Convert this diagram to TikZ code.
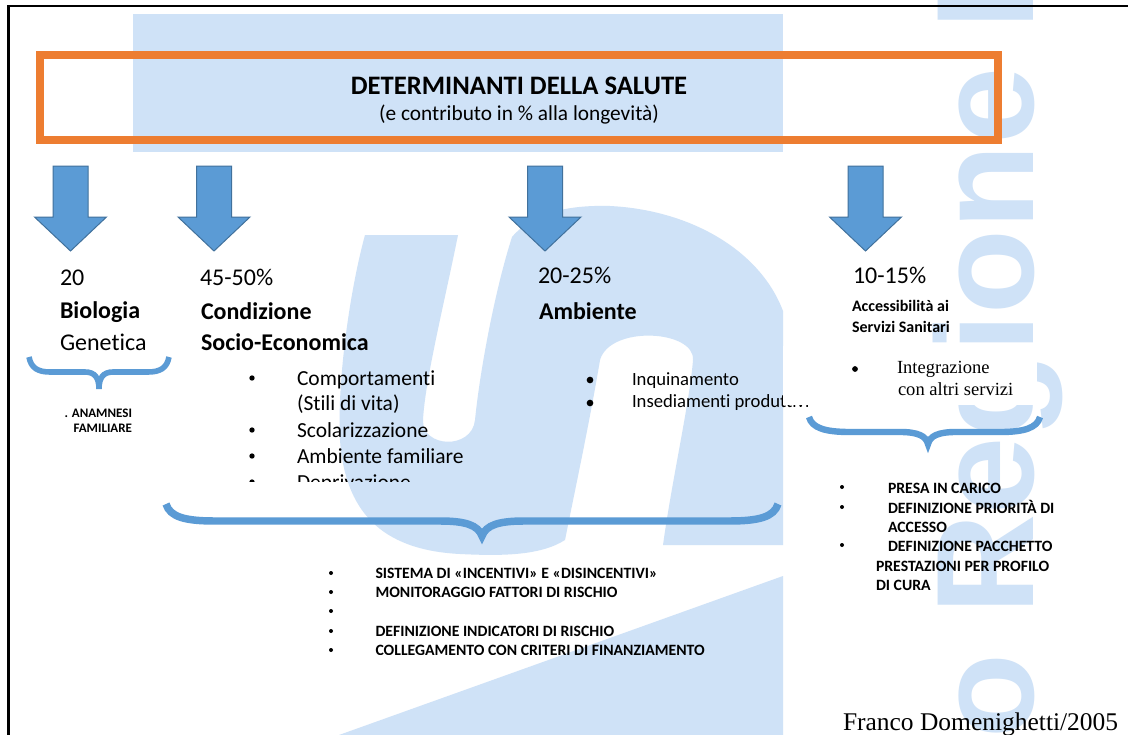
\documentclass[tikz,border=0pt]{standalone}
\usepackage{fontspec}
\setmainfont{Carlito}[Ligatures=NoCommon]
\newfontfamily\serifface{Liberation Serif}
\newfontfamily\wmface{Liberation Sans}
\newcommand\fs[1]{\fontsize{#1pt}{#1pt}\selectfont}
\definecolor{orng}{HTML}{ED7D31}
\definecolor{arrfill}{HTML}{5B9BD5}
\definecolor{arrline}{HTML}{41719C}
\definecolor{wm}{HTML}{CFE2F7}
\begin{document}
\begin{tikzpicture}[x=0.75pt,y=-0.75pt,
  every node/.style={inner sep=0pt, outer sep=0pt},
  lbl/.style={anchor=base west},
  f18/.style={lbl, font=\fs{18}},
  f18b/.style={lbl, font=\fs{18}\bfseries},
  f16/.style={lbl, font=\fs{16.1}},
  f14/.style={lbl, font=\fs{14}},
  f12b/.style={lbl, font=\fs{12}\bfseries},
  fcaps/.style={lbl, font=\fs{11.8}\bfseries},
  ftimes/.style={lbl, font=\serifface\fs{13.9}},
  bigdot/.style={circle, fill=black, minimum size=5pt},
  middot/.style={circle, fill=black, minimum size=4pt},
  smalldot/.style={circle, fill=black, minimum size=3pt},
  blockarrow/.style={fill=arrfill, draw=arrline, line width=0.75pt, line join=miter},
  bracestyle/.style={draw=arrfill, line width=#1, line cap=butt},
]
\useasboundingbox (0,0) rectangle (1128,735);
\fill[white] (0,0) rectangle (1128,735);
% ---- watermark ----
\fill[wm] (133,14) rectangle (783,152);
\fill[wm] (365,235) -- (458,235)
  .. controls (445,300) and (425,380) .. (423,420)
  .. controls (422,448) and (472,450) .. (475,420)
  .. controls (480,370) and (495,290) .. (512,237)
  .. controls (535,210) and (575,205) .. (610,206)
  .. controls (690,210) and (760,250) .. (783,311)
  -- (783,545) -- (663,545)
  .. controls (672,480) and (690,400) .. (693,360)
  .. controls (695,330) and (610,325) .. (600,360)
  .. controls (590,420) and (575,490) .. (565,540)
  .. controls (540,556) and (500,556) .. (460,554)
  .. controls (380,550) and (345,510) .. (340,440)
  .. controls (337,380) and (350,290) .. (365,235) -- cycle;
\fill[wm] (339,735) -- (783,576) -- (783,735) -- cycle;
\node[rotate=90, anchor=base west, font=\wmface\bfseries\fs{104}, text=wm] (wmtext) at (1033,738) {o Regione L};
% ---- frame ----
\draw[line width=1.9pt] (8.5,735) -- (8.5,6) -- (1128,6);
% ---- title box ----
\draw[orng, line width=6pt] (40,55) rectangle (998,140);
\node[font=\fs{20}\bfseries, anchor=base] (title) at (519,94) {DETERMINANTI DELLA SALUTE};
\node[font=\fs{16}, anchor=base] (sub) at (519,120) {(e contributo in \% alla longevità)};
% ---- arrows ----
\foreach \cx in {70.5,214,545,865.5}{
  \draw[blockarrow] (\cx-17.5,166) -- (\cx+17.5,166) -- (\cx+17.5,217) -- (\cx+36,217)
    -- (\cx,251) -- (\cx-36,217) -- (\cx-17.5,217) -- cycle;
}
% ---- headings ----
\node[f18] (n20) at (60,285) {20};
\node[f18b] (bio) at (60,318) {Biologia};
\node[f18] (gen) at (60,350) {Genetica};
\node[f18] (p4550) at (200,285) {45-50\%};
\node[f18b] (cond) at (201,319) {Condizione};
\node[f18b] (socio) at (201,350) {Socio-Economica};
\node[f18] (p2025) at (538,283) {20-25\%};
\node[f18b] (amb) at (539,319) {Ambiente};
\node[f18] (p1015) at (853,283) {10-15\%};
\node[f12b] (acc1) at (852,311) {Accessibilità ai};
\node[f12b] (acc2) at (852,332) {Servizi Sanitari};
% ---- small brace + anamnesi ----
\draw[bracestyle=4.2pt] (29,357) .. controls (31,368) and (38,372) .. (50,372) -- (85,372)
  .. controls (95,372) and (99,378) .. (99,389) .. controls (99,378) and (103,372) .. (113,372)
  -- (148,372) .. controls (160,372) and (167,368) .. (169,357);
\node[anchor=base east, font=\fs{9.75}\bfseries] (anam1) at (132,417) {. ANAMNESI};
\node[anchor=base east, font=\fs{9.75}\bfseries] (anam2) at (132,432) {FAMILIARE};
% ---- socio-economic list ----
\begin{scope}
\clip (230,355) rectangle (520,481);
\foreach \yy in {385,437,463,489}{ \node[middot] at (252,\yy-7) {}; }
\node[f16] (c1) at (297,385) {Comportamenti};
\node[f16] (c2) at (297,410.5) {(Stili di vita)};
\node[f16] (c3) at (297,437) {Scolarizzazione};
\node[f16] (c4) at (297,463) {Ambiente familiare};
\node[f16] (c5) at (297,489) {Deprivazione};
\end{scope}
% ---- environment list ----
\begin{scope}
\clip (575,360) rectangle (830,410);
\node[bigdot] (d1) at (590,380) {};
\node[bigdot] (d2) at (590,403) {};
\node[f14] (e1) at (632,385) {Inquinamento};
\node[f14] (e2) at (632,407) {Insediamenti produttivi};
\end{scope}
% ---- integrazione box ----
\fill[white] (783,346) rectangle (1037,405);
\node[circle, fill=black, minimum size=4.3pt] (d3) at (855,369) {};
\node[ftimes] (i1) at (897,373) {Integrazione};
\node[ftimes] (i2) at (898,395) {con altri servizi};
% ---- big braces ----
\draw[bracestyle=5.6pt] (166,504) .. controls (170,517) and (185,521) .. (215,521) -- (440,521)
  .. controls (465,521) and (478,525) .. (482,536) .. controls (486,525) and (499,521) .. (524,521)
  -- (729,521) .. controls (759,521) and (774,517) .. (778,504);
\draw[bracestyle=4.8pt] (809,417) .. controls (812,428) and (825,432) .. (850,432) -- (900,432)
  .. controls (918,432) and (926,436) .. (928,444) .. controls (930,436) and (938,432) .. (956,432)
  -- (1000,432) .. controls (1024,432) and (1037,428) .. (1040,417);
% ---- bottom list ----
\begin{scope}
\clip (310,560) rectangle (760,654);
\foreach \yy in {578,597,616,636,655}{ \node[smalldot] at (331,\yy-5) {}; }
\node[fcaps] (s1) at (375.5,578) {SISTEMA DI «INCENTIVI» E «DISINCENTIVI»};
\node[fcaps] (s2) at (375.5,597) {MONITORAGGIO FATTORI DI RISCHIO};
\node[fcaps] (s3) at (375.5,636) {DEFINIZIONE INDICATORI DI RISCHIO};
\node[fcaps] (s4) at (375.5,655) {COLLEGAMENTO CON CRITERI DI FINANZIAMENTO};
\end{scope}
% ---- right list ----
\foreach \yy in {493,513,551}{ \node[smalldot] at (842,\yy-6) {}; }
\node[fcaps] (r1) at (888,493) {PRESA IN CARICO};
\node[fcaps] (r2) at (888,513) {DEFINIZIONE PRIORITÀ DI};
\node[fcaps] (r3) at (888,532) {ACCESSO};
\node[fcaps] (r4) at (888,551) {DEFINIZIONE PACCHETTO};
\node[fcaps] (r5) at (876,571) {PRESTAZIONI PER PROFILO};
\node[fcaps] (r6) at (876,590) {DI CURA};
% ---- author ----
\node[lbl, font=\serifface\fs{19.1}] (franco) at (843,730) {Franco Domenighetti/2005};
\end{tikzpicture}
\end{document}
